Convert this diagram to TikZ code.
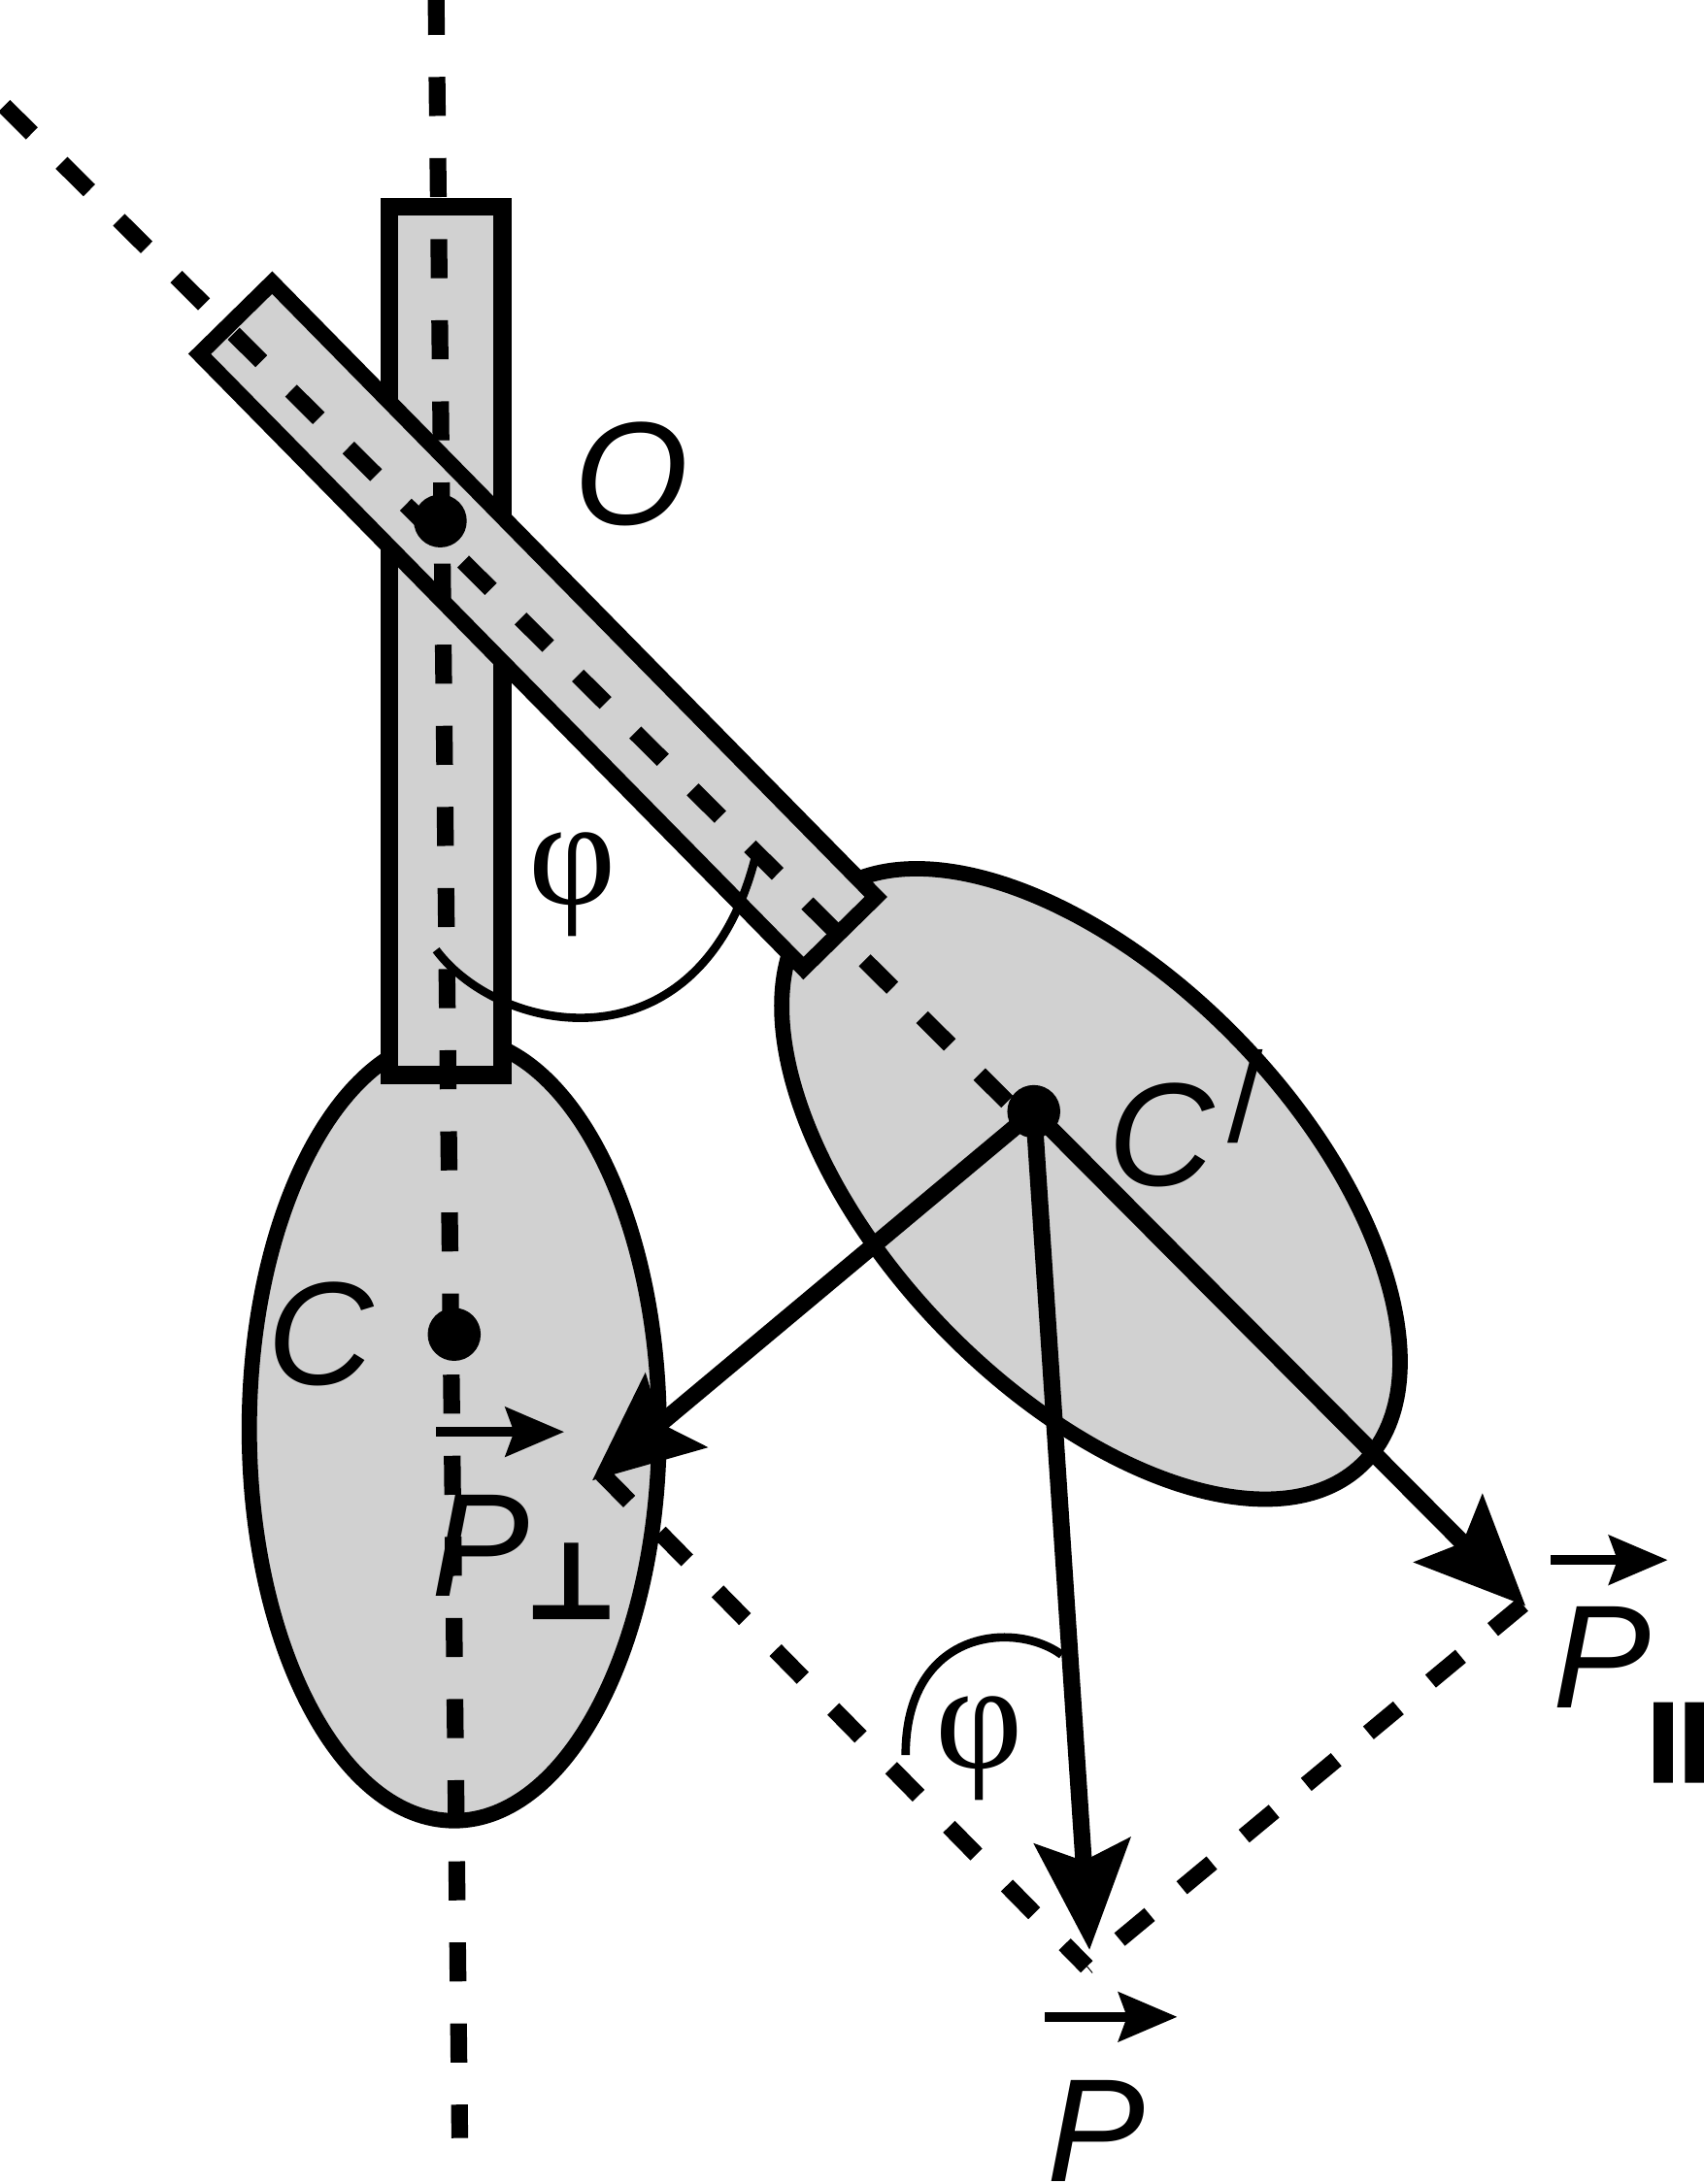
\documentclass[tikz,border=0pt]{standalone}
\usepackage{fontspec}
\setmainfont{Liberation Sans}
\newfontfamily\phifont{Liberation Serif}
\newfontfamily\symfont{DejaVu Sans}
\newcommand{\heavytext}[2]{\special{pdf:code q 2 Tr #1 w}#2\special{pdf:code Q}}
\usetikzlibrary{shapes.geometric,arrows.meta}
\definecolor{rodgray}{gray}{0.82}
\tikzset{
  rod/.style={draw, fill=rodgray, line width=.13cm, inner sep=0pt, miter limit=10},
  lobe/.style={draw, fill=rodgray, ellipse, line width=.11cm, inner sep=0pt},
  pin/.style={circle, fill, inner sep=0pt, minimum size=.38cm},
  axisline/.style={line width=.12cm, dash pattern=on .28cm off .30cm},
  force/.style={line width=.12cm, -{Stealth[length=.78cm, width=.68cm, inset=.14cm]}},
  vecbar/.style={line width=.07cm, -{Stealth[length=.42cm, width=.35cm, inset=.06cm]}},
  angarc/.style={line width=.06cm},
  lab/.style={inner sep=0pt, font=\fontsize{30}{30}\selectfont\itshape},
  philab/.style={inner sep=0pt, font=\fontsize{31}{31}\selectfont\phifont},
}
\begin{document}
\begin{tikzpicture}[x=.01cm, y=-.01cm]
\useasboundingbox (0,0) rectangle (1223,1568);
\node[lobe, minimum width=2.94cm, minimum height=5.62cm] (lobec) at (326,1026){};
\node[rod, minimum width=.81cm, minimum height=6.23cm] (rodc) at (320,460){};
\node[lobe, minimum width=5.6cm, minimum height=2.96cm, rotate=-46] (lobed) at (783,850){};
\node[rod, line width=.115cm, minimum width=6.18cm, minimum height=.73cm, rotate=-45.5] (rodd) at (386,449){};
\coordinate (vtop) at (313,-3);
\coordinate (vbot) at (330,1535);
\coordinate (dtop) at (3,76);
\coordinate (dend) at (735,803);
\coordinate (tperp) at (425,1063);
\coordinate (tpar) at (1095,1153);
\coordinate (tp) at (782,1400);
\coordinate (cperp) at (432,1058);
\coordinate (cpar) at (1093,1152);
\coordinate (cp) at (780,1412);
\node[pin] (pino) at (316,374){};
\node[pin] (pinc) at (326,958){};
\node[pin] (pind) at (742,798){};
\draw[axisline, dash pattern=on .28cm off .302cm] (vtop) -- (vbot);
\draw[axisline] (dtop) -- (dend);
\draw[axisline, dash pattern=on .28cm off .312cm] (cperp) -- (cp);
\draw[axisline] (cpar) -- (cp);
\draw[force] (pind.center) -- (tperp);
\draw[force] (pind.center) -- (tpar);
\draw[force] (pind.center) -- (tp);
\coordinate (arca0) at (313,682);
\coordinate (arca1) at (543,612);
\coordinate (arcb0) at (762,1188);
\coordinate (arcb1) at (650,1260);
\draw[angarc] (arca0) .. controls (360,745) and (505,770) .. (arca1);
\draw[angarc] (arcb0) .. controls (728,1163) and (650,1170) .. (arcb1);
\node[lab] (labo) at (453,340){O};
\node[lab] (labc) at (230,958){C};
\node[lab] (labd) at (851,803){C\kern.1cm\raisebox{.3em}{\upshape\fontsize{26}{26}\selectfont /}};
\node[philab] (phia) at (411,635){φ};
\node[philab] (phib) at (703,1255){φ};
\node[lab] (labperp) at (345,1110){P};
\node[lab] (labpar) at (1150,1190){P};
\node[lab] (labp) at (787,1530){P};
\node[inner sep=0pt, font=\fontsize{20}{20}\selectfont\symfont] (subperp) at (410,1135){\heavytext{1.6}{⊥}};
\node[inner sep=0pt, font=\fontsize{23}{23}\selectfont\bfseries] (subpar) at (1205,1251){\heavytext{0.6}{II}};
\coordinate (va0) at (313,1028);
\coordinate (va1) at (405,1028);
\coordinate (vb0) at (1113,1120);
\coordinate (vb1) at (1197,1120);
\coordinate (vc0) at (750,1448);
\coordinate (vc1) at (845,1448);
\draw[vecbar] (va0) -- (va1);
\draw[vecbar] (vb0) -- (vb1);
\draw[vecbar] (vc0) -- (vc1);
\end{tikzpicture}
\end{document}
